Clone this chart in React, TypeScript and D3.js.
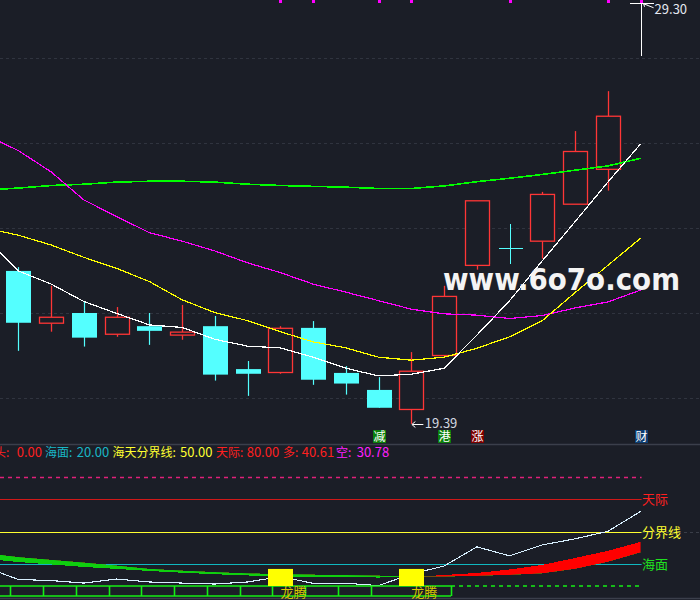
import * as d3 from "d3";

// K线数据（读图估算）
const opens = [22.99, 21.76, 22.0, 21.5, 21.69, 21.48, 21.69, 20.68, 20.6, 21.65, 20.59, 20.19, 19.73, 21.0, 23.12, 23.53, 23.69, 24.56, 25.38, 29.3];
const closes = [21.77, 21.9, 21.42, 21.9, 21.58, 21.55, 20.55, 20.57, 21.64, 20.43, 20.34, 19.77, 20.63, 22.39, 24.64, 23.52, 24.79, 25.8, 26.63, 29.3];
const highs = [23.08, 22.64, 22.28, 22.14, 22.0, 22.19, 21.93, 20.87, 21.69, 21.81, 20.75, 20.49, 21.08, 22.64, 24.64, 24.09, 24.85, 26.28, 27.22, 29.3];
const lows = [21.11, 21.56, 21.21, 21.44, 21.25, 21.37, 20.41, 20.05, 20.57, 20.31, 20.08, 19.77, 19.39, 21.0, 23.02, 23.16, 23.28, 24.56, 24.88, 28.05];

// 均线，首个值是画面左侧之前的那根
const ma5 = [23.76, 22.99, 22.68, 22.27, 21.99, 21.72, 21.66, 21.38, 21.22, 21.18, 20.96, 20.7, 20.52, 20.56, 20.7, 21.48, 22.29, 23.23, 24.15, 25.08, 25.98];
const ma10 = [24.0, 23.83, 23.6, 23.31, 23.05, 22.74, 22.31, 22.01, 21.82, 21.56, 21.32, 21.18, 20.96, 20.89, 20.96, 21.17, 21.44, 21.82, 22.48, 23.12, 23.76];
const ma20 = [26.19, 25.82, 25.32, 24.66, 24.27, 23.89, 23.69, 23.46, 23.18, 22.95, 22.68, 22.49, 22.29, 22.09, 21.98, 21.95, 21.87, 21.94, 22.12, 22.26, 22.54];
const ma60 = [24.89, 24.94, 25.0, 25.03, 25.08, 25.1, 25.1, 25.08, 25.03, 25.0, 24.98, 24.96, 24.93, 24.93, 24.99, 25.09, 25.17, 25.26, 25.36, 25.46, 25.64];

const priceTicks = [20, 22, 24, 26, 28];
const topMarks = [8, 9, 11, 12, 15, 18, 19];

const signalBars = [11, 13, 14, 19];
const signalTexts = ["减", "港", "涨", "财"];

// 副图
const trend = [17.1, 6.0, 5.0, 2.7, 6.4, 3.7, 2.7, 1.8, 3.7, 8.6, 2.5, 2.5, 0.4, 11.0, 18.4, 36.0, 27.7, 37.8, 43.4, 50.3, 68.6];
const duo = [24.9, 22.1, 19.8, 17.5, 15.7, 13.8, 12.2, 10.8, 9.7, 8.9, 8.3, 8.0, 7.8, 8.3, 10.1, 12.0, 15.2, 19.4, 25.8, 32.3, 40.61];
const kong = [30.4, 26.7, 24.2, 21.7, 18.9, 15.9, 14.3, 12.9, 11.8, 11.0, 10.6, 10.1, 9.7, 8.7, 8.5, 9.2, 10.1, 11.5, 15.7, 22.1, 30.78];
const levels = [100, 80, 50, 20];
const levelNames = ["", "天际", "分界线", "海面"];
const dragonBars = [8, 12];
const dragonTop = 15.7;
const boxBars = [0, 1, 2, 3, 4, 5, 6, 7, 8, 9, 10, 11];
const boxEndBar = 13;

const legendLabels = ["头", "海面", "海天分界线", "天际", "多", "空"];
const legendValues = ["0.00", "20.00", "50.00", "80.00", "40.61", "30.78"];

const BG = "#1b1e27";
const UP = "#ff3636";
const DOWN = "#54ffff";
const FONT = "'Noto Sans CJK SC', 'Noto Sans', sans-serif";
const badgeFill: Record<string, string> = { 减: "#0b7f0b", 港: "#0b7f0b", 涨: "#7d0000", 财: "#0c3c70" };
const levelColor = ["#e0207a", "#d01818", "#ffff30", "#10b8c0"];
const levelTextColor = ["", "#ff2020", "#ffff30", "#20e020"];
const legendColor = ["#ff2020", "#19b6c6", "#ffff30", "#ff2020", "#ff2020", "#ff20ff"];
const legendLabelX = [-6, 45, 112.5, 216, 283, 336];
const legendValueX = [16.7, 76.7, 180, 246.7, 301.7, 356.7];

const px = (v: number) => Math.round(v) + 0.5;

export default function App() {
  const x = d3.scaleLinear().domain([0, 19]).range([18.4, 640.6]);
  const y = d3.scaleLinear().domain([20, 28]).range([398, 58]);
  const yi = d3.scaleLinear().domain([0, 100]).range([586, 477.3]);
  const xEnd = x(19) + 1;

  const maLine = d3
    .line<number>()
    .x((_, i) => x(i - 1))
    .y((d) => y(d));
  const subLine = d3
    .line<number>()
    .x((_, i) => x(i - 1))
    .y((d) => yi(d));

  const band = d3
    .area<number>()
    .x((_, i) => x(i - 1))
    .y0((_, i) => yi(kong[i]))
    .y1((d) => yi(d));
  const aboveKong = d3
    .area<number>()
    .x((_, i) => x(i - 1))
    .y0(445)
    .y1((d) => yi(d));
  const belowKong = d3
    .area<number>()
    .x((_, i) => x(i - 1))
    .y0((d) => yi(d))
    .y1(600);

  const bw = 24;

  return (
    <svg
      width={700}
      height={600}
      style={{ position: "absolute", left: 0, top: 0, background: BG }}
      fontFamily={FONT}
    >
      <defs>
        <clipPath id="upClip">
          <path d={aboveKong(kong) ?? ""} />
        </clipPath>
        <clipPath id="dnClip">
          <path d={belowKong(kong) ?? ""} />
        </clipPath>
        <clipPath id="mainClip">
          <rect x={0} y={0} width={700} height={443} />
        </clipPath>
      </defs>
      <rect width={700} height={600} fill={BG} />

      {/* 网格 */}
      {priceTicks.map((t) => (
        <line key={t} x1={0} x2={700} y1={px(y(t))} y2={px(y(t))} stroke="#30343f" strokeDasharray="3,3" />
      ))}

      {/* 顶部标记 */}
      {topMarks.map((i) => (
        <rect key={i} x={Math.round(x(i)) - 1} y={0} width={3} height={3} fill="#ff00ff" />
      ))}

      {/* K线 */}
      {opens.map((o, i) => {
        const c = closes[i];
        const cx = px(x(i));
        const left = Math.round(x(i) - bw / 2) + 0.5;
        const yo = y(o);
        const yc = y(c);
        const yh = y(highs[i]);
        const yl = y(lows[i]);
        const top = Math.min(yo, yc);
        const bot = Math.max(yo, yc);
        const flat = bot - top < 1.5;
        const color = c > o ? UP : c < o ? DOWN : "#ffffff";
        if (flat) {
          return (
            <g key={i} stroke={color} strokeWidth={1} shapeRendering="crispEdges">
              <line x1={cx} x2={cx} y1={yh} y2={yl} />
              <line x1={left} x2={left + bw} y1={px(top)} y2={px(top)} />
            </g>
          );
        }
        if (c > o) {
          return (
            <g key={i} stroke={color} strokeWidth={1.3} fill="none">
              <line x1={cx} x2={cx} y1={yh} y2={top} />
              <line x1={cx} x2={cx} y1={bot} y2={yl} />
              <rect x={left} y={top} width={bw} height={bot - top} fill={BG} />
            </g>
          );
        }
        return (
          <g key={i}>
            <line x1={cx} x2={cx} y1={yh} y2={yl} stroke={color} strokeWidth={1.2} />
            <rect x={left - 0.5} y={top} width={bw + 1} height={bot - top} fill={color} />
          </g>
        );
      })}

      {/* 均线 */}
      <g fill="none" strokeWidth={1.2} shapeRendering="crispEdges" clipPath="url(#mainClip)">
        <path d={maLine(ma60) ?? ""} stroke="#00ff00" strokeWidth={1.6} />
        <path d={maLine(ma20) ?? ""} stroke="#ff00ff" />
        <path d={maLine(ma10) ?? ""} stroke="#ffff00" />
        <path d={maLine(ma5) ?? ""} stroke="#ffffff" />
      </g>

      {/* 最高最低 */}
      <g stroke="#ffffff" strokeWidth={1} fill="none">
        <path d={`M${x(19) + 3},${y(29.3) + 1} L${x(19) + 13},${y(29.3) + 5}`} />
        <path d={`M${x(19) + 3},${y(29.3) + 1} l4,0 M${x(19) + 3},${y(29.3) + 1} l1,3`} />
        <line x1={x(12) + 1} x2={x(12) + 12} y1={px(y(19.39))} y2={px(y(19.39))} />
        <path d={`M${x(12) + 4},${px(y(19.39)) - 3} L${x(12) + 0.5},${px(y(19.39))} L${x(12) + 4},${px(y(19.39)) + 3}`} />
      </g>
      <text x={x(19) + 14} y={y(29.3) + 11} fontSize={13} fill="#e4e8f0">29.30</text>
      <text x={x(12) + 13.5} y={y(19.39) + 4} fontSize={13} fill="#d4d8e0">19.39</text>

      {/* 水印 */}
      <text
        x={443}
        y={290}
        fontSize={31}
        fontWeight="bold"
        fontFamily="'DejaVu Sans', sans-serif"
        fill="#f4f4f4"
        textLength={237}
        lengthAdjust="spacingAndGlyphs"
      >
        www.6o7o.com
      </text>

      {/* 信号 */}
      {signalBars.map((b, k) => (
        <g key={b}>
          <rect x={Math.round(x(b)) - 6} y={430} width={13} height={13} fill={badgeFill[signalTexts[k]]} />
          <text x={Math.round(x(b)) + 0.5} y={441} fontSize={12} textAnchor="middle" fill="#ffffff">
            {signalTexts[k]}
          </text>
        </g>
      ))}

      {/* 分隔 */}
      <line x1={0} x2={700} y1={444.5} y2={444.5} stroke="#3b3f4b" strokeWidth={1.5} />
      <line x1={0} x2={700} y1={598.5} y2={598.5} stroke="#3b3f4b" strokeWidth={1.5} />

      {/* 图例 */}
      {legendLabels.map((l, k) => (
        <g key={l} fill={legendColor[k]}>
          <text x={legendLabelX[k]} y={456.5} fontSize={12}>{l}:</text>
          <text x={legendValueX[k]} y={456.5} fontSize={13}>{legendValues[k]}</text>
        </g>
      ))}

      {/* 副图水平线 */}
      <line x1={0} x2={700} y1={px(yi(50))} y2={px(yi(50))} stroke="#3a3e48" strokeDasharray="3,3" />
      {levels.map((v, k) => (
        <line
          key={v}
          x1={0}
          x2={xEnd}
          y1={px(yi(v))}
          y2={px(yi(v))}
          stroke={levelColor[k]}
          strokeWidth={k === 0 ? 1.3 : 1.2}
          strokeDasharray={k === 0 ? "4,4" : undefined}
        />
      ))}
      {levels.map((v, k) =>
        levelNames[k] ? (
          <text key={v} x={xEnd + 0.5} y={yi(v) + 5} fontSize={13} fill={levelTextColor[k]}>
            {levelNames[k]}
          </text>
        ) : null
      )}

      {/* 多空带 */}
      <path d={band(duo) ?? ""} fill="#ff0000" clipPath="url(#upClip)" shapeRendering="crispEdges" />
      <path d={band(duo) ?? ""} fill="#0fcf0f" clipPath="url(#dnClip)" shapeRendering="crispEdges" />
      <path d={subLine(trend) ?? ""} fill="none" stroke="#d8f0ff" strokeWidth={1.1} shapeRendering="crispEdges" />

      {/* 底部方格 */}
      <g stroke="#16ee16" strokeWidth={1.6}>
        <line x1={0} x2={Math.round(x(boxEndBar) + 7)} y1={586} y2={586} />
        <line x1={0} x2={Math.round(x(boxEndBar) + 7)} y1={596} y2={596} />
        {boxBars.map((b) => (
          <line key={b} x1={px(x(b) - 8)} x2={px(x(b) - 8)} y1={586} y2={596} />
        ))}
        <line x1={px(x(boxEndBar) + 7)} x2={px(x(boxEndBar) + 7)} y1={586} y2={596} />
        <line x1={Math.round(x(boxEndBar) + 7)} x2={xEnd} y1={586} y2={586} strokeDasharray="4,4" />
      </g>

      {/* 龙腾 */}
      {dragonBars.map((b) => (
        <g key={b}>
          <rect x={Math.round(x(b) - 12)} y={yi(dragonTop)} width={25} height={yi(0) - yi(dragonTop)} fill="#ffff00" />
          <text x={x(b)} y={597} fontSize={13} fill="#d8c800">龙腾</text>
        </g>
      ))}
    </svg>
  );
}
